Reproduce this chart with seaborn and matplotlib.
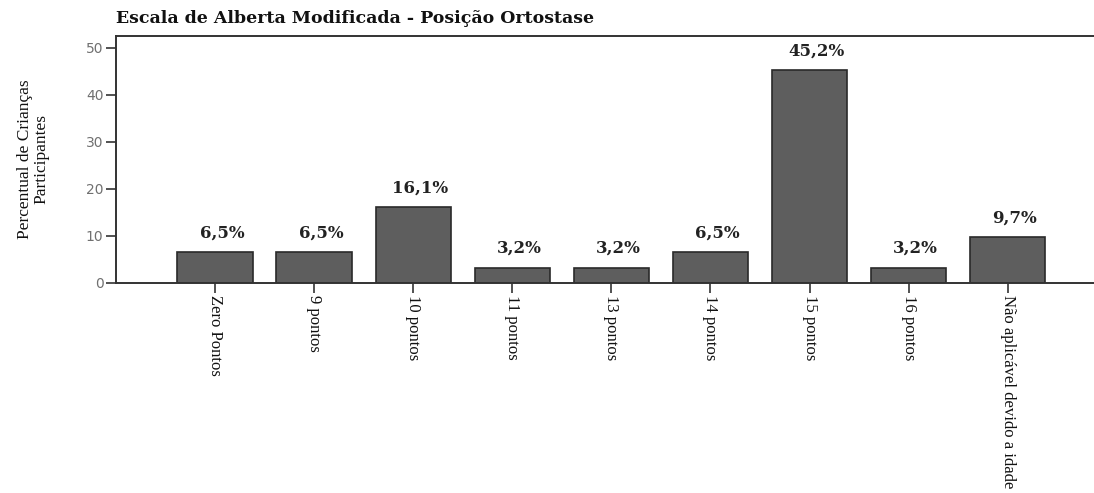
import matplotlib
matplotlib.use("Agg")
import matplotlib.pyplot as plt
import seaborn as sns
import pandas as pd

categorias = ["Zero Pontos", "9 pontos", "10 pontos", "11 pontos", "13 pontos",
              "14 pontos", "15 pontos", "16 pontos", "Não aplicável devido a idade"]
percentuais = [6.5, 6.5, 16.1, 3.2, 3.2, 6.5, 45.2, 3.2, 9.7]
rotulos = ["6,5%", "6,5%", "16,1%", "3,2%", "3,2%", "6,5%", "45,2%", "3,2%", "9,7%"]
yticks = [0, 10, 20, 30, 40, 50]

df = pd.DataFrame({"categoria": categorias, "percentual": percentuais})

sns.set_theme(style="white")
plt.rcParams["font.family"] = ["DejaVu Sans"]

fig = plt.figure(figsize=(10.94, 4.93), dpi=100)
ax = fig.add_axes([0.106, 0.426, 0.96, 0.501])

sns.barplot(data=df, x="categoria", y="percentual", color="#5e5e5e",
            saturation=1, width=0.76, edgecolor="#2a2a2a", linewidth=1.2, ax=ax)

ax.set_xlim(-1.0, 9.6)
ax.set_ylim(0, 52.5)
ax.set_yticks(yticks)
ax.set_yticklabels([str(v) for v in yticks], color="#707070", fontsize=10)

ax.set_xticks(range(len(categorias)))
ax.set_xticklabels(categorias, rotation=270, ha="center", va="top",
                   family="Liberation Serif", fontsize=12, color="#111111")

ax.tick_params(axis="both", direction="out", length=7, width=1.2,
               color="#333333", bottom=True, left=True)
ax.tick_params(axis="y", pad=2)
ax.tick_params(axis="x", pad=2)

for side in ["left", "top", "bottom"]:
    ax.spines[side].set_visible(True)
    ax.spines[side].set_color("#333333")
    ax.spines[side].set_linewidth(1.4)
ax.spines["right"].set_visible(False)

for patch, texto in zip(ax.patches, rotulos):
    x = patch.get_x() + patch.get_width() / 2
    ax.annotate(texto, (x, patch.get_height()), xytext=(5, 8),
                textcoords="offset points", ha="center", va="bottom",
                family="DejaVu Serif", fontweight="bold", fontsize=12,
                color="#222222")

ax.set_xlabel("")
ax.set_ylabel("Percentual de Crianças\nParticipantes", family="Liberation Serif",
              fontsize=12.5, color="#111111", labelpad=26, linespacing=1.1)

fig.text(0.106, 0.962, "Escala de Alberta Modificada - Posição Ortostase",
         family="DejaVu Serif", fontweight="bold", fontsize=12.5,
         color="#111111", ha="left", va="center")

fig.savefig("out.png", dpi=100)
